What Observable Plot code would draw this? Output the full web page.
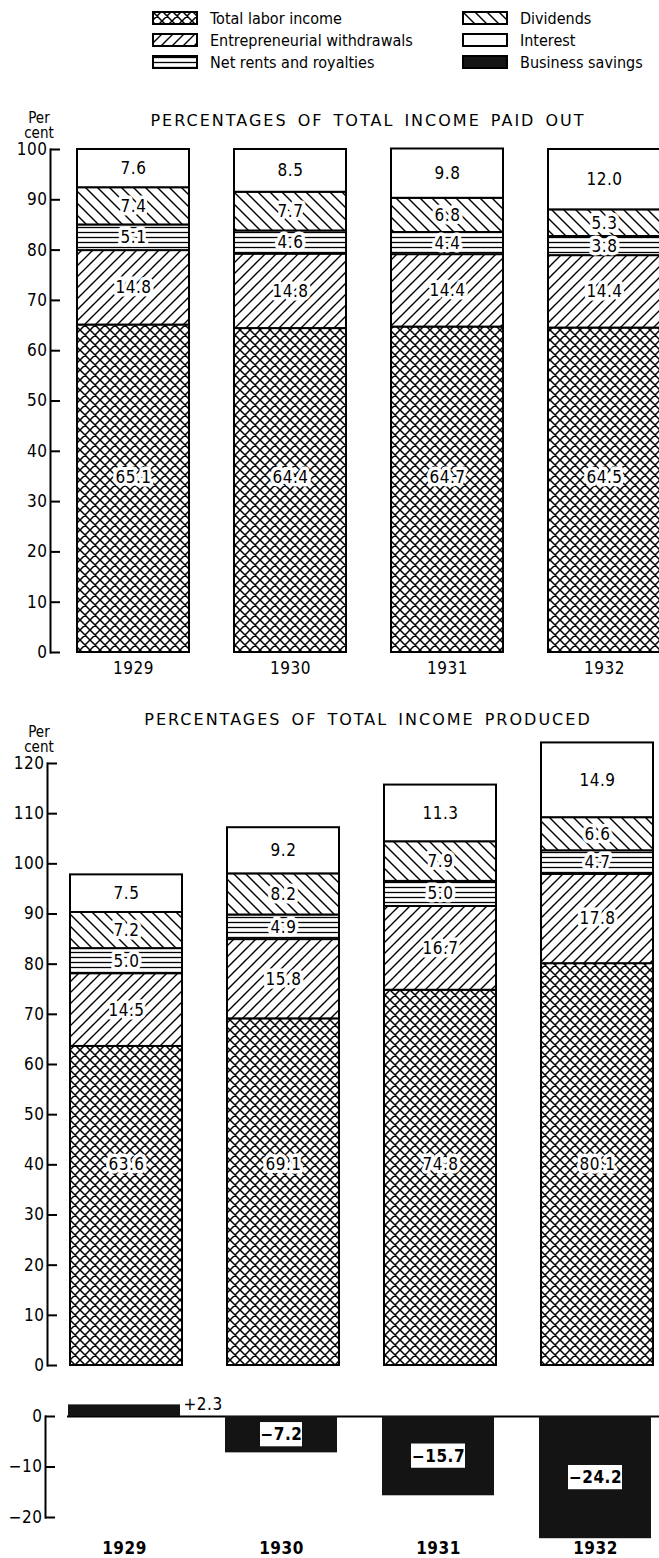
<!DOCTYPE html>
<html>
<head>
<meta charset="utf-8">
<script src="https://cdn.jsdelivr.net/npm/d3@7"></script>
<script src="https://cdn.jsdelivr.net/npm/@observablehq/plot@0.6"></script>
<style>
html, body { margin: 0; padding: 0; background: #fff; }
#page { position: relative; width: 659px; height: 1558px; overflow: hidden; background: #fff; color: #000;
  font-family: "Liberation Sans Narrow", "DejaVu Sans Condensed", "DejaVu Sans", sans-serif; font-stretch: condensed; }
.chart { position: absolute; left: 0; }
.title { position: absolute; left: 0; width: 736px; text-align: center; font-family: "DejaVu Sans", sans-serif; font-stretch: normal;
  font-size: 16px; letter-spacing: 2px; word-spacing: 3px; line-height: 16px; white-space: nowrap; }
.percent { position: absolute; left: 22px; width: 34px; text-align: center; font-size: 15px; line-height: 15px; }
.leg { position: absolute; display: flex; align-items: center; font-size: 16px; height: 18px; white-space: nowrap; }
.leg svg { display: block; margin-right: 12px; }
</style>
</head>
<body>
<svg width="0" height="0" style="position:absolute">
  <defs>
    <pattern id="p-labor" patternUnits="userSpaceOnUse" width="10" height="10">
      <rect width="10" height="10" fill="#fff"/>
      <path d="M0,0L10,10M10,0L0,10M9,-1L11,1M-1,9L1,11M-1,1L1,-1M9,11L11,9" stroke="#000" stroke-width="1.5" fill="none"/>
    </pattern>
    <pattern id="p-entre" patternUnits="userSpaceOnUse" width="11" height="11">
      <rect width="11" height="11" fill="#fff"/>
      <path d="M0,11L11,0M-1,1L1,-1M10,12L12,10" stroke="#000" stroke-width="1.4" fill="none"/>
    </pattern>
    <pattern id="p-rents" patternUnits="userSpaceOnUse" width="10" height="5">
      <rect width="10" height="5" fill="#fff"/>
      <path d="M0,2.5L10,2.5" stroke="#000" stroke-width="1.3" fill="none"/>
    </pattern>
    <pattern id="p-div" patternUnits="userSpaceOnUse" width="12" height="12">
      <rect width="12" height="12" fill="#fff"/>
      <path d="M0,0L12,12M11,-1L13,1M-1,11L1,13" stroke="#000" stroke-width="1.4" fill="none"/>
    </pattern>
    <pattern id="p-int" patternUnits="userSpaceOnUse" width="10" height="10">
      <rect width="10" height="10" fill="#fff"/>
    </pattern>
  </defs>
</svg>
<div id="page"></div>
<script>
// ---------- data ----------
const years = ["1929", "1930", "1931", "1932"];
const categories = ["Total labor income", "Entrepreneurial withdrawals", "Net rents and royalties", "Dividends", "Interest"];
const savingsLabel = "Business savings";

const paidLabor = [65.1, 64.4, 64.7, 64.5];
const paidEntrepreneurial = [14.8, 14.8, 14.4, 14.4];
const paidRents = [5.1, 4.6, 4.4, 3.8];
const paidDividends = [7.4, 7.7, 6.8, 5.3];
const paidInterest = [7.6, 8.5, 9.8, 12.0];

const producedLabor = [63.6, 69.1, 74.8, 80.1];
const producedEntrepreneurial = [14.5, 15.8, 16.7, 17.8];
const producedRents = [5.0, 4.9, 5.0, 4.7];
const producedDividends = [7.2, 8.2, 7.9, 6.6];
const producedInterest = [7.5, 9.2, 11.3, 14.9];

const businessSavings = [2.3, -7.2, -15.7, -24.2];

const paidTicks = [0, 10, 20, 30, 40, 50, 60, 70, 80, 90, 100];
const producedTicks = [0, 10, 20, 30, 40, 50, 60, 70, 80, 90, 100, 110, 120];
const savingsTicks = [0, -10, -20];

const chartTitles = ["PERCENTAGES OF TOTAL INCOME PAID OUT", "PERCENTAGES OF TOTAL INCOME PRODUCED"];
const unitLabel = ["Per", "cent"];

// ---------- styles ----------
const patternFills = ["url(#p-labor)", "url(#p-entre)", "url(#p-rents)", "url(#p-div)", "url(#p-int)"];
const savingsFill = "#141414";
const W = 659;
const fontNarrow = '"Liberation Sans Narrow", "DejaVu Sans Condensed", "DejaVu Sans", sans-serif';
const svgStyle = {fontFamily: fontNarrow, fontStretch: "condensed", fontSize: "17px", background: "transparent", overflow: "visible", letterSpacing: "0.5px"};

function toRows(series) {
  return years.flatMap((year, i) => categories.map((cat, j) => ({year, cat, value: series[j][i]})));
}
const fmt = v => v.toFixed(1);
const fmtSigned = v => (v > 0 ? "+" : "\u2212") + Math.abs(v).toFixed(1);

function xBand(shift) {
  return {type: "band", domain: years, range: [53 + shift, 671 + shift], paddingInner: 0.285, paddingOuter: 0.1};
}

const labelStyle = {fill: "#000", stroke: "#fff", strokeWidth: 7, paintOrder: "stroke", fontSize: 17};

function stackedChart({rows, ticks, marginLeft, marginTop, marginBottom, height, xShift, laborDy, showYears}) {
  const frameW = W - marginLeft;
  const laborRows = rows.filter(d => d.cat === categories[0]);
  const laborY = d3.max(laborRows, d => d.value) / 2;
  return Plot.plot({
    width: W, height, marginLeft, marginRight: 0, marginTop, marginBottom,
    x: {...xBand(xShift), axis: null},
    y: {domain: [d3.min(ticks), d3.max(ticks)], axis: null},
    color: {type: "ordinal", domain: categories, range: patternFills},
    style: svgStyle,
    marks: [
      Plot.barY(rows, Plot.stackY({x: "year", y: "value", fill: "cat", order: categories, stroke: "#000", strokeWidth: 2})),
      Plot.text(rows, Plot.stackY({x: "year", y: "value", z: "cat", order: categories,
        text: d => d.cat === categories[0] ? null : fmt(d.value), ...labelStyle})),
      Plot.text(laborRows, {x: "year", y: () => laborY, dy: laborDy, text: d => fmt(d.value), ...labelStyle}),
      Plot.ruleY(ticks, {y: d => d, insetRight: frameW - 10, strokeWidth: 2}),
      Plot.frame({anchor: "left", strokeWidth: 2}),
      Plot.axisY(ticks, {anchor: "left", tickSize: 0, tickPadding: 3, fontSize: 17, label: null}),
      showYears ? Plot.axisX({anchor: "bottom", tickSize: 0, tickPadding: 9, fontSize: 17, label: null}) : null
    ]
  });
}

const page = document.getElementById("page");

function place(node, top) {
  node.classList.add("chart");
  node.style.top = top + "px";
  page.appendChild(node);
}

// ---------- legend ----------
const legendItems = [...categories, savingsLabel];
const legendFills = [...patternFills, savingsFill];
const legendCols = [152, 462];
const legendRows = [18, 40, 62];
legendItems.forEach((name, i) => {
  const col = i < 3 ? 0 : 1;
  const row = i % 3;
  const div = document.createElement("div");
  div.className = "leg";
  div.style.left = legendCols[col] + "px";
  div.style.top = (legendRows[row] - 9) + "px";
  div.innerHTML = `<svg width="46" height="14"><rect x="1" y="1" width="44" height="12" fill="${legendFills[i]}" stroke="#000" stroke-width="2"/></svg><span>${name}</span>`;
  page.appendChild(div);
});

// ---------- titles ----------
function addTitle(text, top) {
  const d = document.createElement("div");
  d.className = "title";
  d.style.top = top + "px";
  d.textContent = text;
  page.appendChild(d);
}
function addUnit(top) {
  const d = document.createElement("div");
  d.className = "percent";
  d.style.top = top + "px";
  d.innerHTML = unitLabel.join("<br>");
  page.appendChild(d);
}

// ---------- chart 1: paid out ----------
addTitle(chartTitles[0], 113);
addUnit(111);
place(stackedChart({
  rows: toRows([paidLabor, paidEntrepreneurial, paidRents, paidDividends, paidInterest]),
  ticks: paidTicks, marginLeft: 50, marginTop: 59, marginBottom: 33, height: 595, xShift: 7, laborDy: -11, showYears: true
}), 90);

// ---------- chart 2: produced ----------
addTitle(chartTitles[1], 712);
addUnit(725);
place(stackedChart({
  rows: toRows([producedLabor, producedEntrepreneurial, producedRents, producedDividends, producedInterest]),
  ticks: producedTicks, marginLeft: 47, marginTop: 63, marginBottom: 10, height: 675, xShift: 0, laborDy: 0, showYears: false
}), 700);

// ---------- chart 3: business savings ----------
const savingsRows = years.map((year, i) => ({year, value: businessSavings[i]}));
const negRows = savingsRows.filter(d => d.value < 0);
const posRows = savingsRows.filter(d => d.value > 0);
const savingsFrameW = W - 45;
const boxInset = d => fmtSigned(d.value).length > 4 ? 29 : 35;
const savingsChart = Plot.plot({
  width: W, height: 178, marginLeft: 45, marginRight: 0, marginTop: 36, marginBottom: 41,
  x: {...xBand(-2), axis: null},
  y: {domain: [d3.min(savingsTicks), d3.max(savingsTicks)], axis: null},
  style: svgStyle,
  marks: [
    Plot.ruleY([0], {insetLeft: 22, strokeWidth: 2}),
    Plot.barY(savingsRows, {x: "year", y: "value", fill: savingsFill}),
    ...negRows.map(d => Plot.rect([d], {x: "year", y1: r => r.value / 2 - 2.4, y2: r => r.value / 2 + 2.4,
      fill: "#fff", insetLeft: boxInset(d), insetRight: boxInset(d)})),
    Plot.text(negRows, {x: "year", y: d => d.value / 2, text: d => fmtSigned(d.value), fontWeight: "bold", fontSize: 17, fill: "#000"}),
    Plot.text(posRows, {x: "year", y: "value", text: d => fmtSigned(d.value), textAnchor: "start", dx: 59, fontSize: 17, fill: "#000"}),
    Plot.ruleY(savingsTicks, {y: d => d, insetRight: savingsFrameW - 10, strokeWidth: 2}),
    Plot.frame({anchor: "left", strokeWidth: 2}),
    Plot.axisY(savingsTicks, {anchor: "left", tickSize: 0, tickPadding: 3, fontSize: 17, label: null}),
    Plot.axisX({anchor: "bottom", tickSize: 0, tickPadding: 24, fontSize: 17, fontWeight: "bold", label: null})
  ]
});
place(savingsChart, 1380);
</script>
</body>
</html>
